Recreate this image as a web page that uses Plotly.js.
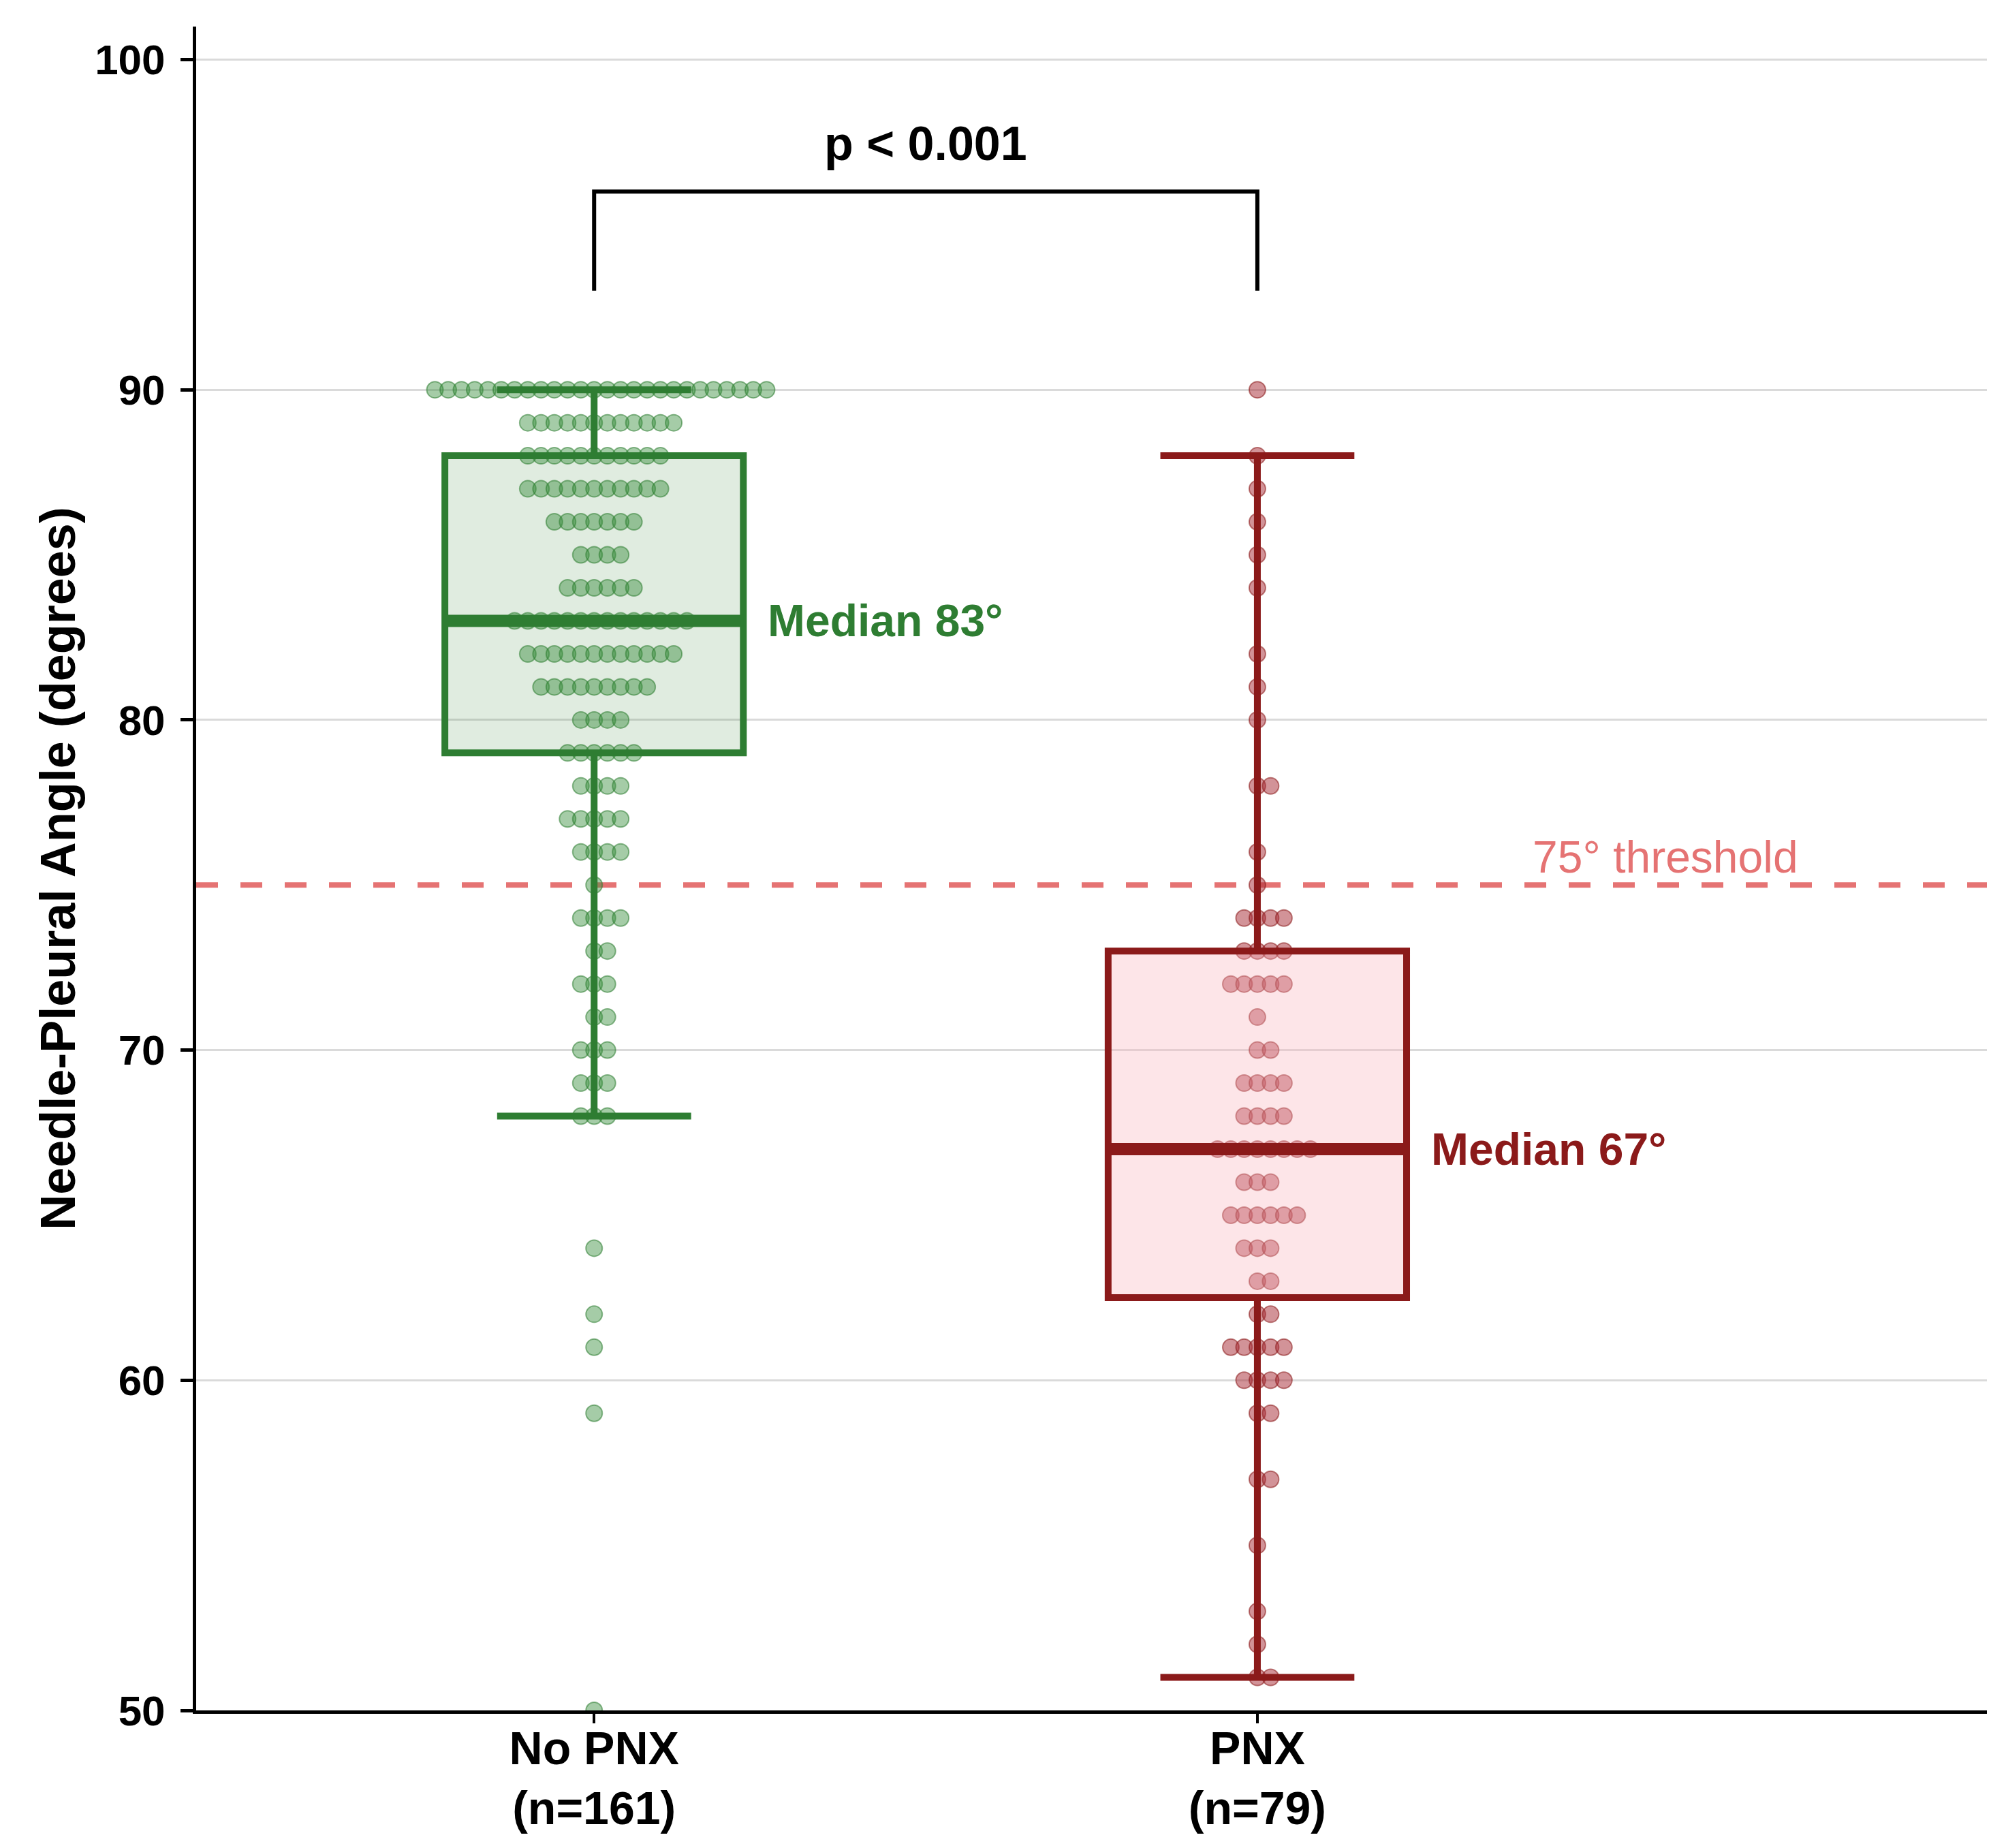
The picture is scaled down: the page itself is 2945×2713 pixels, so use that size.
<!DOCTYPE html>
<html>
<head>
<meta charset="utf-8">
<script src="https://cdn.plot.ly/plotly-3.0.1.min.js"></script>
<style>
  html, body { margin: 0; padding: 0; background: #ffffff; }
  #plot { width: 2945px; height: 2713px; }
</style>
</head>
<body>
<div id="plot"></div>
<script>

// Groups and their dot rows (angle value and how many patients at that value)
const groupNames = ["No PNX", "PNX"];

const noPnxAngles = [90, 89, 88, 87, 86, 85, 84, 83, 82, 81, 80, 79, 78, 77, 76, 75, 74, 73, 72, 71, 70, 69, 68, 64, 62, 61, 59, 50];
const noPnxCounts = [26, 12, 11, 11,  7,  4,  6, 14, 12,  9,  4,  6,  4,  5,  4,  1,  4,  2,  3,  2,  3,  3,  3,  1,  1,  1,  1,  1];

const pnxAngles = [90, 88, 87, 86, 85, 84, 82, 81, 80, 78, 76, 75, 74, 73, 72, 71, 70, 69, 68, 67, 66, 65, 64, 63, 62, 61, 60, 59, 57, 55, 53, 52, 51];
const pnxCounts = [ 1,  1,  1,  1,  1,  1,  1,  1,  1,  2,  1,  1,  4,  4,  5,  1,  2,  4,  4,  8,  3,  6,  3,  2,  2,  5,  4,  2,  2,  1,  1,  1,  2];

const yTicks = [50, 60, 70, 80, 90, 100];
const thresholdAngle = 75;
const pValueText = "p < 0.001";

// Styles
const font = "Liberation Sans, Arial, Helvetica, sans-serif";
const green = "#2e7d32";
const red = "#8b1a1a";
const thresholdCol = "#e57373";
const boxWidth = 0.45;
const dotStep = 0.02;

// Expand value/count rows into one value per patient
function expand(angles, counts) {
  let out = [];
  angles.forEach((a, i) => {
    for (let k = 0; k < counts[i]; k++) out.push(a);
  });
  return out;
}

function median(vals) {
  let s = vals.slice().sort((a, b) => a - b);
  let m = Math.floor(s.length / 2);
  return s.length % 2 ? s[m] : (s[m - 1] + s[m]) / 2;
}

// Dots stacked side by side in each row, centred on the group
function dotTrace(angles, counts, center, fill, outline) {
  let xs = [];
  let ys = [];
  angles.forEach((a, i) => {
    let n = counts[i];
    let start = -Math.floor((n - 1) / 2);
    for (let k = 0; k < n; k++) {
      xs.push(center + (start + k) * dotStep);
      ys.push(a);
    }
  });
  return {
    x: xs,
    y: ys,
    type: "scatter",
    mode: "markers",
    xaxis: "x",
    yaxis: "y",
    hoverinfo: "y",
    marker: {
      size: 24,
      color: fill,
      line: { color: outline, width: 2 }
    },
    showlegend: false
  };
}

function boxTrace(vals, center, col, fill) {
  return {
    y: vals,
    x0: center,
    type: "box",
    xaxis: "x2",
    yaxis: "y",
    width: boxWidth,
    whiskerwidth: 0.65,
    // keep 1.5 IQR whiskers, outliers are already shown as dots
    boxpoints: "outliers",
    marker: { opacity: 0, size: 1 },
    quartilemethod: "inclusive",
    fillcolor: fill,
    line: { color: col, width: 10 },
    hoverinfo: "y",
    showlegend: false
  };
}

function medianTrace(vals, center, col) {
  let m = median(vals);
  return {
    x: [center - boxWidth / 2, center + boxWidth / 2],
    y: [m, m],
    type: "scatter",
    mode: "lines",
    xaxis: "x2",
    yaxis: "y",
    hoverinfo: "none",
    line: { color: col, width: 18 },
    showlegend: false
  };
}

let noPnxValues = expand(noPnxAngles, noPnxCounts);
let pnxValues = expand(pnxAngles, pnxCounts);

let data = [
  dotTrace(noPnxAngles, noPnxCounts, 0, "rgba(56,142,60,0.45)", "rgba(46,125,50,0.55)"),
  dotTrace(pnxAngles, pnxCounts, 1, "rgba(165,40,50,0.5)", "rgba(139,26,26,0.55)"),
  boxTrace(noPnxValues, 0, green, "rgba(46,125,50,0.15)"),
  boxTrace(pnxValues, 1, red, "rgba(250,180,190,0.35)"),
  medianTrace(noPnxValues, 0, green),
  medianTrace(pnxValues, 1, red)
];

let xRange = [-0.6, 2.1];

let layout = {
  width: 2945,
  height: 2713,
  paper_bgcolor: "#ffffff",
  plot_bgcolor: "#ffffff",
  font: { family: font, color: "#000000" },
  margin: { l: 288, r: 28, t: 39, b: 202 },
  xaxis: {
    range: xRange,
    tickmode: "array",
    tickvals: [0, 1],
    ticktext: [
      groupNames[0] + "<br>(n=" + noPnxValues.length + ")",
      groupNames[1] + "<br>(n=" + pnxValues.length + ")"
    ],
    tickfont: { family: font, size: 68, weight: "bold", color: "#000000" },
    ticks: "outside",
    ticklen: 14,
    tickwidth: 4,
    tickcolor: "#000000",
    ticklabelstandoff: -22,
    showline: true,
    linecolor: "#000000",
    linewidth: 5,
    showgrid: false,
    zeroline: false,
    fixedrange: true
  },
  xaxis2: {
    range: xRange,
    overlaying: "x",
    visible: false,
    fixedrange: true
  },
  yaxis: {
    range: [50, 101],
    tickmode: "array",
    tickvals: yTicks,
    ticktext: yTicks.map(String),
    tickfont: { family: font, size: 62, weight: "bold", color: "#000000" },
    ticks: "outside",
    ticklen: 18,
    tickwidth: 5,
    tickcolor: "#000000",
    ticklabelstandoff: 10,
    showline: true,
    linecolor: "#000000",
    linewidth: 5,
    showgrid: true,
    gridcolor: "#dadada",
    gridwidth: 3,
    zeroline: false,
    fixedrange: true,
    title: {
      text: "Needle-Pleural Angle (degrees)",
      font: { family: font, size: 72, weight: "bold", color: "#000000" },
      standoff: 6
    }
  },
  shapes: [
    // Threshold line
    {
      type: "line",
      xref: "paper", x0: 0, x1: 1,
      yref: "y", y0: thresholdAngle, y1: thresholdAngle,
      line: { color: thresholdCol, width: 8, dash: "32px,33px" },
      layer: "below"
    },
    // Significance bracket
    {
      type: "path",
      xref: "x", yref: "y",
      path: "M 0,93 L 0,96 L 1,96 L 1,93",
      line: { color: "#000000", width: 6 }
    }
  ],
  annotations: [
    {
      x: 0.5, y: 97.45, xref: "x", yref: "y",
      text: pValueText,
      showarrow: false,
      xanchor: "center", yanchor: "middle",
      font: { family: font, size: 70, weight: "bold", color: "#000000" }
    },
    {
      x: 0.26, y: median(noPnxValues), xref: "x", yref: "y",
      text: "Median " + median(noPnxValues) + "°",
      showarrow: false,
      xanchor: "left", yanchor: "middle",
      font: { family: font, size: 66, weight: "bold", color: green }
    },
    {
      x: 1.26, y: median(pnxValues), xref: "x", yref: "y",
      text: "Median " + median(pnxValues) + "°",
      showarrow: false,
      xanchor: "left", yanchor: "middle",
      font: { family: font, size: 66, weight: "bold", color: red }
    },
    {
      x: 1.818, y: thresholdAngle, xref: "x", yref: "y",
      text: thresholdAngle + "° threshold",
      showarrow: false,
      xanchor: "right", yanchor: "bottom",
      yshift: 2,
      font: { family: font, size: 66, color: thresholdCol }
    }
  ]
};

let config = {
  displayModeBar: false,
  staticPlot: true
};

Plotly.newPlot("plot", data, layout, config);

</script>
</body>
</html>
